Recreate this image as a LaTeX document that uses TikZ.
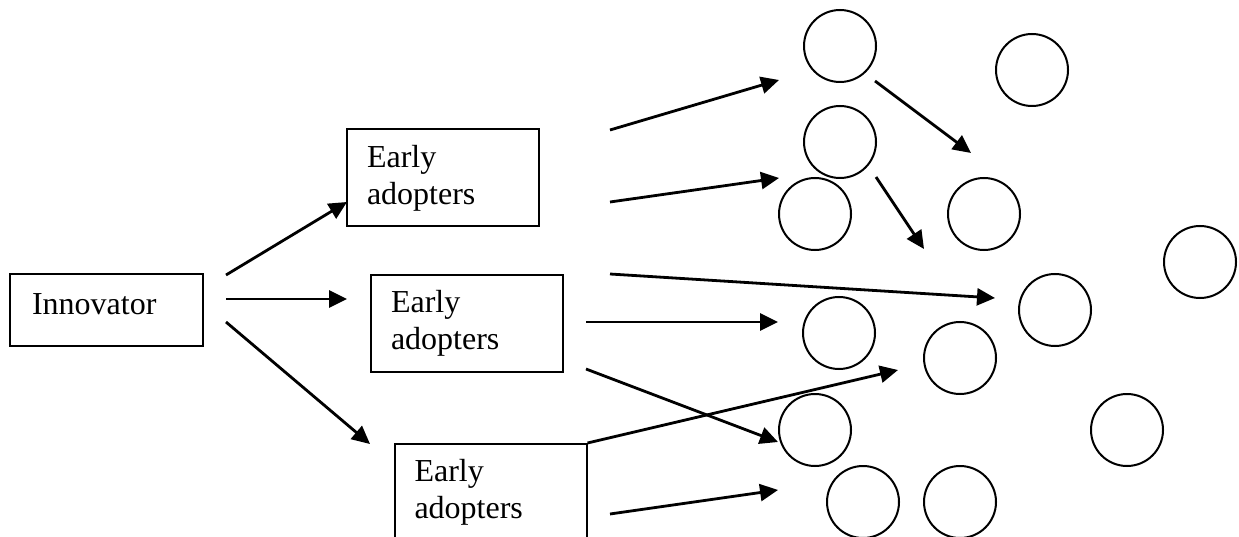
\documentclass[tikz,border=0pt]{standalone}
\usepackage{fontspec}
\setmainfont{Liberation Serif}
\usetikzlibrary{arrows.meta}

\tikzset{
	adopterbox/.style={draw, line width=2pt, rectangle, minimum height=97pt, text width=152pt, inner xsep=20pt, align=left, font=\fontsize{32}{37}\selectfont},
	person/.style={draw, circle, line width=2pt, minimum size=72pt, inner sep=0pt},
	spread/.style={line width=2.8pt, -{Triangle[length=18pt,width=17pt]}}
}

\begin{document}
\begin{tikzpicture}[x=1pt, y=-1pt]
			%%%%% START %%%%%
			\useasboundingbox (0, 0) rectangle (1239, 537);
			\clip (0, 0) rectangle (1239, 537);
			
			\node[draw, line width=2pt, minimum height=72pt, text width=149pt, inner xsep=22pt, align=left, text height=21pt, text depth=13pt, font=\fontsize{32}{37}\selectfont] (innov) at (106.5, 310) {Innovator};
			
			\node[adopterbox] (ea1) at (443, 178) {Early\\adopters};
			\node[adopterbox] (ea2) at (467, 323.5) {Early\\adopters};
			\node[adopterbox] (ea3) at (490.5, 492.5) {Early\\adopters};
			
			\node[person] (p1) at (840, 46) {};
			\node[person] (p2) at (1032, 70) {};
			\node[person] (p3) at (840, 142) {};
			\node[person] (p4) at (815, 214) {};
			\node[person] (p5) at (984, 214) {};
			\node[person] (p6) at (1200, 262) {};
			\node[person] (p7) at (1055, 310) {};
			\node[person] (p8) at (839, 333) {};
			\node[person] (p9) at (960, 358) {};
			\node[person] (p10) at (815, 430) {};
			\node[person] (p11) at (1127, 430) {};
			\node[person] (p12) at (863, 502) {};
			\node[person] (p13) at (960, 502) {};
			
			% innovator to early adopters
			\coordinate (i1s) at (226, 275);  \coordinate (i1e) at (347, 202);
			\coordinate (i2s) at (226, 299);  \coordinate (i2e) at (347, 299);
			\coordinate (i3s) at (226, 322);  \coordinate (i3e) at (370, 444);
			\draw[spread] (i1s) -- (i1e);
			\draw[spread] (i2s) -- (i2e);
			\draw[spread] (i3s) -- (i3e);
			
			% early adopters to the rest
			\coordinate (a1s) at (610, 130);  \coordinate (a1e) at (779, 80);
			\coordinate (a2s) at (610, 202);  \coordinate (a2e) at (779, 178);
			\coordinate (a3s) at (610, 274);  \coordinate (a3e) at (995, 298);
			\coordinate (a4s) at (586, 322);  \coordinate (a4e) at (778, 322);
			\coordinate (a5s) at (586, 369);  \coordinate (a5e) at (778, 442);
			\coordinate (a6e) at (898, 370);
			\coordinate (a7s) at (610, 514);  \coordinate (a7e) at (778, 490);
			\draw[spread] (a1s) -- (a1e);
			\draw[spread] (a2s) -- (a2e);
			\draw[spread] (a3s) -- (a3e);
			\draw[spread] (a4s) -- (a4e);
			\draw[spread] (a5s) -- (a5e);
			\draw[spread] (ea3.north east) -- (a6e);
			\draw[spread] (a7s) -- (a7e);
			
			% people passing it on
			\coordinate (b1s) at (875, 81);  \coordinate (b1e) at (971, 153);
			\coordinate (b2s) at (876, 177);  \coordinate (b2e) at (924, 249);
			\draw[spread] (b1s) -- (b1e);
			\draw[spread] (b2s) -- (b2e);
			
			%%%%% END %%%%%
\end{tikzpicture}
\end{document}
